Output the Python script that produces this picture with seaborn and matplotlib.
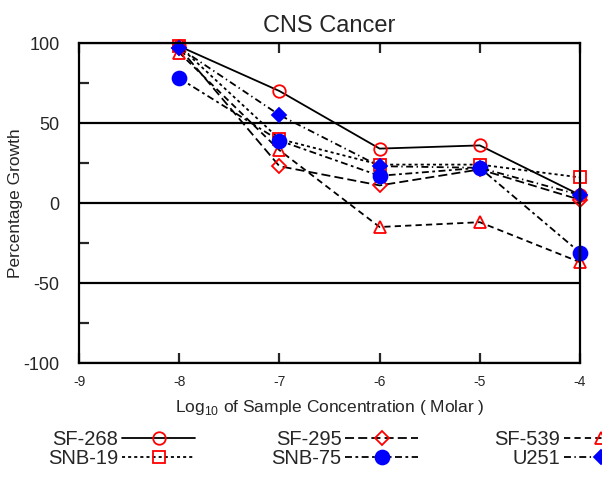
import matplotlib
matplotlib.use("Agg")
import matplotlib.pyplot as plt
import numpy as np
import seaborn as sns
from matplotlib.ticker import MultipleLocator

# Log10 molar concentration
conc = [-8, -7, -6, -5, -4]

# Percentage growth per cell line
sf268 = [98, 70, 34, 36, 5]
sf295 = [97, 23, 11, 21, 2]
sf539 = [94, 33, -15, -12, -37]
snb19 = [98, 40, 24, 24, 16]
snb75 = [78, 39, 17, 22, -31]
u251 = [97, 55, 23, 22, 5]

names = ["SF-268", "SF-295", "SF-539", "SNB-19", "SNB-75", "U251"]
values = [sf268, sf295, sf539, snb19, snb75, u251]

sns.set_style("ticks")
plt.rcParams['font.family'] = ['Liberation Sans', 'DejaVu Sans']
plt.rcParams['mathtext.fontset'] = 'custom'
plt.rcParams['mathtext.rm'] = 'Liberation Sans'
plt.rcParams['lines.scale_dashes'] = False
plt.rcParams['axes.unicode_minus'] = False

# line style, marker, face colour, edge colour, marker size
styles = {
    "SF-268": ('-', 'o', 'none', 'red', 9),
    "SF-295": ((0, (6.5, 3)), 'D', 'none', 'red', 7),
    "SF-539": ((0, (4.5, 3)), '^', 'none', 'red', 9),
    "SNB-19": ((0, (2.2, 2.2)), 's', 'none', 'red', 9),
    "SNB-75": ((0, (5, 2.5, 2, 2.5)), 'o', 'blue', 'blue', 10),
    "U251": ((0, (5, 2.5, 1, 2.5)), 'D', 'blue', 'blue', 7.5),
}

fig = plt.figure(figsize=(6.02, 4.91), dpi=100)
ax = fig.add_axes([79 / 602, 1 - 363 / 491, 501 / 602, 320 / 491])

for name, vals in zip(names, values):
    ls, mk, fc, ec, ms = styles[name]
    sns.lineplot(x=conc, y=vals, ax=ax, color='black', linestyle=ls, linewidth=1.3,
                 marker=mk, markerfacecolor=fc, markeredgecolor=ec,
                 markeredgewidth=1.3, markersize=ms, label=name, clip_on=False)

ax.set_xlim(-9, -4)
ax.set_ylim(-100, 100)
ax.set_xticks([-9, -8, -7, -6, -5, -4])
ax.set_yticks([-100, -50, 0, 50, 100])
ax.yaxis.set_minor_locator(MultipleLocator(25))
ax.grid(axis='y', which='major', color='black', linewidth=1.6)
for s in ax.spines.values():
    s.set_linewidth(1.6)
    s.set_color('black')

ax.tick_params(axis='x', direction='in', top=True, bottom=True, length=7,
               width=1.6, labelsize=10, pad=9)
ax.tick_params(axis='y', which='major', direction='in', length=0, labelsize=13, pad=14)
ax.tick_params(axis='y', which='minor', direction='in', length=7, width=1.6,
               left=True, right=False)

ax.set_title("CNS Cancer", fontsize=17, pad=8)
ax.set_ylabel("Percentage Growth", fontsize=12.5)
ax.yaxis.set_label_coords(-0.112, 0.5)
ax.set_xlabel(r"Log$_{10}$ of Sample Concentration ( Molar )", fontsize=12.5)
ax.xaxis.set_label_coords(0.5, -0.11)

ax.get_legend().remove()
h, l = ax.get_legend_handles_labels()
order = [0, 3, 1, 4, 2, 5]
fig.legend([h[i] for i in order], [l[i] for i in order], ncol=3, markerfirst=False,
           frameon=False, fontsize=14.5, handlelength=3.6, handletextpad=0.2,
           columnspacing=3.8, labelspacing=0.0, borderpad=0, borderaxespad=0,
           loc='upper left', bbox_to_anchor=(48 / 602, 1 - 430 / 491))

fig.savefig("out.png", dpi=100)
